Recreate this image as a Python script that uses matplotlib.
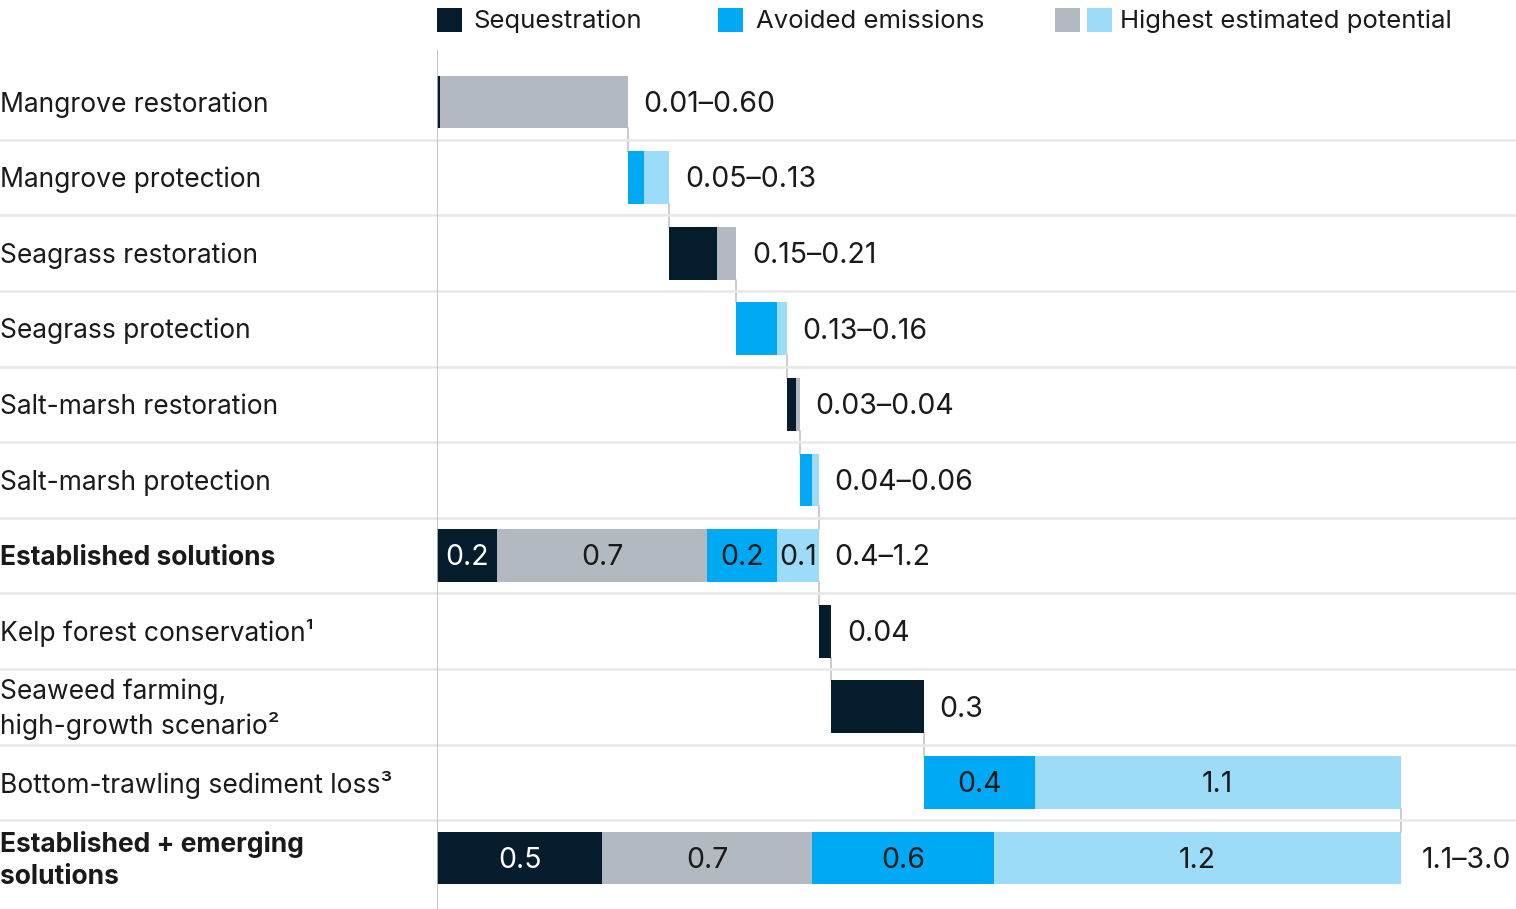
import numpy as np
import matplotlib.pyplot as plt
from matplotlib.patches import Rectangle

plt.rcParams['font.family'] = ['Inter', 'DejaVu Sans']

# individual solutions (waterfall steps)
names = ['Mangrove restoration', 'Mangrove protection', 'Seagrass restoration',
         'Seagrass protection', 'Salt-marsh restoration', 'Salt-marsh protection',
         'Kelp forest conservation¹', 'Seaweed farming,\nhigh-growth scenario²',
         'Bottom-trawling sediment loss³']
seq = [0.01, 0.0, 0.15, 0.0, 0.03, 0.0, 0.04, 0.29, 0.0]
seq_high = [0.59, 0.0, 0.06, 0.0, 0.01, 0.0, 0.0, 0.0, 0.0]
avoid = [0.0, 0.05, 0.0, 0.13, 0.0, 0.04, 0.0, 0.0, 0.35]
avoid_high = [0.0, 0.08, 0.0, 0.03, 0.0, 0.02, 0.0, 0.0, 1.15]
range_labels = ['0.01–0.60', '0.05–0.13', '0.15–0.21', '0.13–0.16', '0.03–0.04',
                '0.04–0.06', '0.04', '0.3', '']
inbar_trawl = ['', '', '0.4', '1.1']

n_established = 6
est_name = 'Established solutions'
est_labels = ['0.2', '0.7', '0.2', '0.1']
est_range = '0.4–1.2'
tot_name = 'Established + emerging\nsolutions'
tot_labels = ['0.5', '0.7', '0.6', '1.2']
tot_range = '1.1–3.0'

colors = ['#051c2c', '#b3b9c0', '#00a9f4', '#9cdcf9']
txt_colors = ['white', '#1a1a1a', '#1a1a1a', '#1a1a1a']
sep_color = '#e8e8e8'
conn_color = '#c4c4c4'

W, H = 1516, 909
px_per_unit = 318.0
fig = plt.figure(figsize=(W / 100, H / 100), dpi=100)
x0 = 437
ax = fig.add_axes([x0 / W, 0, 1 - x0 / W, 859 / H])
row_h = 75.6
ax.set_xlim(0, (W - x0) / px_per_unit)
ax.set_ylim((909 - 102) / row_h, -(102 - 50) / row_h)
ax.axis('off')

# build rows: steps + established total + remaining steps + grand total
rows = []
cum = 0.0
for i in range(9):
    segs = [seq[i], seq_high[i], avoid[i], avoid_high[i]]
    lab = inbar_trawl if i == 8 else ['', '', '', '']
    rows.append(dict(name=names[i], start=cum, segs=segs, labs=lab,
                     rng=range_labels[i], bold=False))
    cum += sum(segs)
    if i == n_established - 1:
        est = [sum(seq[:6]), sum(seq_high[:6]), sum(avoid[:6]), sum(avoid_high[:6])]
        rows.append(dict(name=est_name, start=0.0, segs=est, labs=est_labels,
                         rng=est_range, bold=True))
tot = [sum(seq), sum(seq_high), sum(avoid), sum(avoid_high)]
rows.append(dict(name=tot_name, start=0.0, segs=tot, labs=tot_labels,
                 rng=tot_range, bold=True))

bh = 0.70
fs = 19
fs_num = 20.5
dy = 0.03  # nudge text down a touch
left_x = -x0 / (W - x0)
for r, row in enumerate(rows):
    left = row['start']
    for k, (w, lab) in enumerate(zip(row['segs'], row['labs'])):
        if w <= 0:
            continue
        ax.barh(r, w, left=left, height=bh, color=colors[k], linewidth=0)
        if lab:
            ax.text(left + w / 2, r + dy, lab, ha='center', va='center',
                    fontsize=fs_num, color=txt_colors[k])
        left += w
    if row['rng']:
        last = r == len(rows) - 1
        ax.text(left + (0.065 if last else 0.05), r + dy, row['rng'], ha='left',
                va='center', fontsize=fs_num, color='#1a1a1a')
    ax.text(left_x, r + dy, row['name'], transform=ax.get_yaxis_transform(),
            ha='left', va='center', fontsize=fs, color='#1a1a1a',
            fontweight='bold' if row['bold'] else 'normal', linespacing=1.3)
    row['end'] = left

# connectors between consecutive bars
for r in range(len(rows) - 1):
    xe = rows[r]['end']
    ax.plot([xe, xe], [r + bh / 2, r + 1 - bh / 2], color=conn_color, lw=1.2,
            zorder=0)

# row separators across full width
for r in range(len(rows) - 1):
    ax.plot([left_x, 1], [r + 0.5, r + 0.5], transform=ax.get_yaxis_transform(),
            color=sep_color, lw=1.8, clip_on=False, zorder=0)

ax.axvline(0, color='#bdbdbd', lw=1.2, zorder=3)

# legend
def sq(xp, c):
    fig.add_artist(Rectangle((xp / W, 1 - 32 / H), 25 / W, 24 / H,
                             transform=fig.transFigure, color=c, lw=0))

fs_leg = 18.5
ly = 1 - 21.5 / H
sq(437, colors[0])
fig.text(473 / W, ly, 'Sequestration', va='center', fontsize=fs_leg, color='#1a1a1a')
sq(718, colors[2])
fig.text(756 / W, ly, 'Avoided emissions', va='center', fontsize=fs_leg, color='#1a1a1a')
sq(1055, colors[1])
sq(1087, colors[3])
fig.text(1120 / W, ly, 'Highest estimated potential', va='center', fontsize=fs_leg,
         color='#1a1a1a')

fig.savefig('out.png', dpi=100)
